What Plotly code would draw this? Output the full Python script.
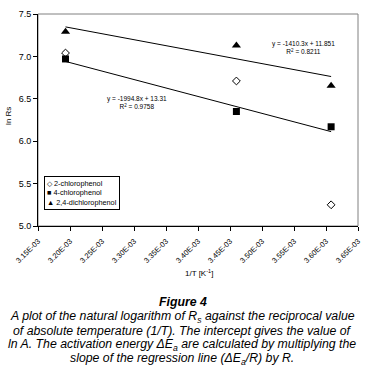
import plotly.graph_objects as go

# ---- data ----
inv_T = [0.003193, 0.003460, 0.003608]
cp2 = [7.04, 6.71, 5.25]          # 2-chlorophenol
cp4 = [6.97, 6.35, 6.17]          # 4-chlorophenol
dcp24 = [7.29, 7.13, 6.655]       # 2,4-dichlorophenol
series_names = ["2-chlorophenol", "4-chlorophenol", "2,4-dichlorophenol"]
legend_glyphs = ["◇", "■", "▲"]
fit4_slope, fit4_int = -1994.8, 13.31
fit24_slope, fit24_int = -1410.3, 11.851
x_tickvals = [0.00315, 0.00320, 0.00325, 0.00330, 0.00335, 0.00340,
              0.00345, 0.00350, 0.00355, 0.00360, 0.00365]
x_ticktext = ["3.15E-03", "3.20E-03", "3.25E-03", "3.30E-03", "3.35E-03", "3.40E-03",
              "3.45E-03", "3.50E-03", "3.55E-03", "3.60E-03", "3.65E-03"]

W, H = 371, 374
L, R, T, B = 38, 362, 13, 226
FONT = "Liberation Sans, Arial, sans-serif"

def py(p):  # pixel y -> paper y
    return (B - p) / (B - T)

def px(p):
    return (p - L) / (R - L)

fig = go.Figure()
fig.add_trace(go.Scatter(x=inv_T, y=cp2, mode="markers", name=series_names[0],
                         marker=dict(symbol="diamond-open", size=6, color="black",
                                     line=dict(width=1, color="black"))))
fig.add_trace(go.Scatter(x=inv_T, y=cp4, mode="markers", name=series_names[1],
                         marker=dict(symbol="square", size=7, color="black")))
fig.add_trace(go.Scatter(x=inv_T, y=dcp24, mode="markers", name=series_names[2],
                         marker=dict(symbol="triangle-up", size=8, color="black")))
xe = [min(inv_T), max(inv_T)]
fig.add_trace(go.Scatter(x=xe, y=[fit4_slope * v + fit4_int for v in xe], mode="lines",
                         line=dict(color="black", width=1), hoverinfo="skip"))
fig.add_trace(go.Scatter(x=xe, y=[fit24_slope * v + fit24_int for v in xe], mode="lines",
                         line=dict(color="black", width=1), hoverinfo="skip"))

def note(text, x, y, size, **kw):
    d = dict(text=text, x=px(x), y=py(y), xref="paper", yref="paper", showarrow=False,
             xanchor="center", yanchor="middle", font=dict(size=size, family=FONT, color="black"))
    d.update(kw)
    return d

ann = []
ann.append(note("y = -1994.8x + 13.31<br>R<sup>2</sup> = 0.9758", 138, 102, 6.5))
ann.append(note("y = -1410.3x + 11.851<br>R<sup>2</sup> = 0.8211", 307, 47, 6.5))
ann.append(note("1/T [K<sup>-1</sup>]", 201, 273, 8))
ann.append(note("ln Rs", 8, 115, 8, textangle=-90))
legend_text = "<br>".join(f"{g} {n}" for g, n in zip(legend_glyphs, series_names))
ann.append(note(legend_text, 44, 176, 7.3, xanchor="left", yanchor="top", align="left",
                bordercolor="black", borderwidth=1, borderpad=2, bgcolor="white"))
cap = 12.3
ann.append(note("<b><i>Figure 4</i></b>", 185, 302, cap))
caption = [
    "<i>A plot of the natural logarithm of R<sub>s</sub> against the reciprocal value</i>",
    "<i>of absolute temperature (1/T). The intercept gives the value of</i>",
    "<i>ln A. The activation energy ΔE<sub>a</sub> are calculated by multiplying the</i>",
    "<i>slope of the regression line (ΔE<sub>a</sub>/R) by R.</i>",
]
for i, line in enumerate(caption):
    ann.append(note(line, 184, 317 + i * 14.2, cap))

fig.update_layout(
    width=W, height=H,
    margin=dict(l=L, r=W - R, t=T, b=H - B),
    paper_bgcolor="white", plot_bgcolor="white",
    font=dict(family=FONT, size=9, color="black"),
    showlegend=False,
    annotations=ann,
    shapes=[dict(type="rect", xref="paper", yref="paper", x0=0, x1=1, y0=0, y1=1,
                 line=dict(color="#808080", width=1), layer="below")],
)
fig.update_xaxes(range=[0.00315, 0.00365], tickvals=x_tickvals, ticktext=x_ticktext,
                 tickangle=-45, ticks="outside", ticklen=4, tickcolor="black",
                 ticklabelstandoff=3,
                 showline=True, linecolor="black", linewidth=1, showgrid=False, zeroline=False,
                 tickfont=dict(size=7.5, family=FONT))
fig.update_yaxes(range=[5.0, 7.5], dtick=0.5, tickformat=".1f",
                 ticks="outside", ticklen=4, tickcolor="black",
                 showline=True, linecolor="black", linewidth=1, showgrid=False, zeroline=False,
                 tickfont=dict(size=9, family=FONT))
fig.write_html("out.html", post_script="document.body.style.margin='0';",
               config={"displayModeBar": False})
